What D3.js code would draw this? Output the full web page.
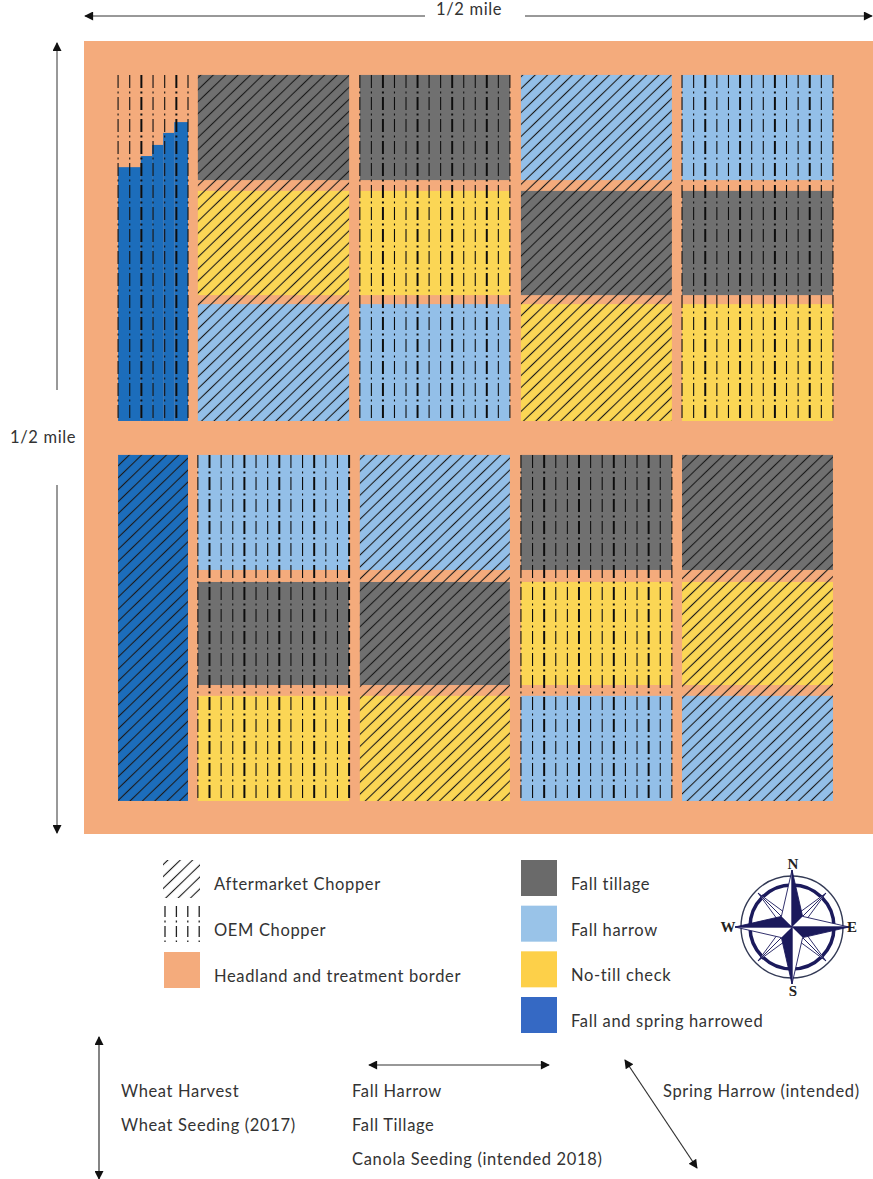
<!DOCTYPE html>
<html>
<head>
<meta charset="utf-8">
<title>Field plot map</title>
<script src="https://cdn.jsdelivr.net/npm/d3@7"></script>
<style>
    html, body { margin: 0; padding: 0; background: #fff; }
    svg { display: block; }
    text { font-family: Lato, "Open Sans", sans-serif; fill: #333; letter-spacing: 0.65px; }
</style>
</head>
<body>
<svg width="873" height="1179"></svg>
<script>
// field distances in feet, the whole field being 1/2 mile square
const fieldFeet = 2640;
const columnEdges = [[381, 887], [923, 1425], [1462, 1967], [2001, 2506]];
const stripEdge = [114, 348];
const blockEdges = { north: [113, 1265], south: [1378, 2530] };
const rowEdges = {
    north: [[113, 463], [499, 846], [876, 1265]],
    south: [[1378, 1761], [1801, 2144], [2180, 2530]]
};

// t = fall tillage, n = no-till check, h = fall harrow
const northRows = [["t", "n", "h"], ["t", "n", "h"], ["h", "t", "n"], ["h", "t", "n"]];
const southRows = [["h", "t", "n"], ["h", "t", "n"], ["t", "n", "h"], ["t", "n", "h"]];
const northChoppers = ["after", "oem", "after", "oem"];
const southChoppers = ["oem", "after", "oem", "after"];

// north strip, harrowed part starts further north going east
const stairEdges = [[114, 190], [190, 228], [228, 265], [265, 302], [302, 348]];
const stairTops = [420, 383, 346, 306, 270];

const fillColors = { t: "#707070", n: "#fbd655", h: "#93bfe8", s: "#1e6dbb", border: "#f4ab7c" };

const legendLeft = [
    { label: "Aftermarket Chopper", kind: "after" },
    { label: "OEM Chopper", kind: "oem" },
    { label: "Headland and treatment border", kind: "border" }
];
const legendRight = [
    { label: "Fall tillage", color: "#6b6b6b" },
    { label: "Fall harrow", color: "#99c3e8" },
    { label: "No-till check", color: "#fdd04a" },
    { label: "Fall and spring harrowed", color: "#3669c4" }
];
const operationColumns = [
    { x: 121, lines: ["Wheat Harvest", "Wheat Seeding (2017)"] },
    { x: 352, lines: ["Fall Harrow", "Fall Tillage", "Canola Seeding (intended 2018)"] },
    { x: 663, lines: ["Spring Harrow (intended)"] }
];
const compassPoints = ["N", "E", "S", "W"];

const svg = d3.select("svg");
const x = d3.scaleLinear().domain([0, fieldFeet]).range([84, 873]);
const y = d3.scaleLinear().domain([0, fieldFeet]).range([41, 834]);

const defs = svg.append("defs");
defs.append("marker")
    .attr("id", "arrow")
    .attr("viewBox", "0 -5 10 10")
    .attr("refX", 9)
    .attr("refY", 0)
    .attr("markerWidth", 10)
    .attr("markerHeight", 9)
    .attr("markerUnits", "userSpaceOnUse")
    .attr("orient", "auto-start-reverse")
    .append("path")
    .attr("d", "M0,-5L10,0L0,5Z")
    .attr("fill", "#111");
defs.append("filter").attr("id", "soft")
    .append("feGaussianBlur").attr("stdDeviation", 0.5);

const hatch = defs.append("pattern")
    .attr("id", "diag")
    .attr("patternUnits", "userSpaceOnUse")
    .attr("width", 8.6)
    .attr("height", 8.6)
    .attr("patternTransform", "rotate(-44)");
hatch.append("line")
    .attr("x1", -1).attr("x2", 10)
    .attr("y1", 4.3).attr("y2", 4.3)
    .attr("stroke", "#1a1a1a")
    .attr("stroke-width", 1.1);

const field = svg.append("g").attr("filter", "url(#soft)");
field.append("rect")
    .attr("x", x(0)).attr("y", y(0))
    .attr("width", x(fieldFeet) - x(0))
    .attr("height", y(fieldFeet) - y(0))
    .attr("fill", fillColors.border);

function plotRect(sel, x0, x1, y0, y1, fill) {
    return sel.append("rect")
        .attr("x", x(x0)).attr("y", y(y0))
        .attr("width", x(x1) - x(x0))
        .attr("height", y(y1) - y(y0))
        .attr("fill", fill);
}

// dash-dot lines of the OEM chopper, every third one is heavier
function oemLines(sel, x0, x1, y0, y1, gap, phase) {
    const n = Math.round((x1 - x0) / gap);
    sel.append("g").selectAll("line")
        .data(d3.range(n + 1))
        .enter().append("line")
        .attr("x1", d => x0 + (x1 - x0) * d / n)
        .attr("x2", d => x0 + (x1 - x0) * d / n)
        .attr("y1", y0).attr("y2", y1)
        .attr("stroke", "#111")
        .attr("stroke-width", d => (d + phase) % 3 === 0 ? 2 : 1.1)
        .attr("stroke-dasharray", "13 3.5 2 3.5");
}

function drawBlock(block, rows, choppers) {
    const [top, bottom] = blockEdges[block];
    columnEdges.forEach((edge, c) => {
        rows[c].forEach((code, r) => {
            const [r0, r1] = rowEdges[block][r];
            plotRect(field, edge[0], edge[1], r0, r1, fillColors[code]);
        });
        if (choppers[c] === "after") {
            plotRect(field, edge[0], edge[1], top, bottom, "url(#diag)");
        } else {
            oemLines(field, x(edge[0]), x(edge[1]), y(top), y(bottom), 11.5, c === 0 ? 2 : 1);
        }
    });
}

drawBlock("north", northRows, northChoppers);
drawBlock("south", southRows, southChoppers);

// west strip
stairEdges.forEach((edge, i) => {
    plotRect(field, edge[0], edge[1], stairTops[i], blockEdges.north[1], fillColors.s);
});
oemLines(field, x(stripEdge[0]), x(stripEdge[1]), y(blockEdges.north[0]), y(blockEdges.north[1]), 11.6, 1);
plotRect(field, stripEdge[0], stripEdge[1], blockEdges.south[0], blockEdges.south[1], fillColors.s);
plotRect(field, stripEdge[0], stripEdge[1], blockEdges.south[0], blockEdges.south[1], "url(#diag)");

// dimension arrows
const arrows = svg.append("g");
function arrow(x1, y1, x2, y2, w) {
    arrows.append("line")
        .attr("x1", x1).attr("y1", y1).attr("x2", x2).attr("y2", y2)
        .attr("stroke", "#333")
        .attr("stroke-width", w || 1)
        .attr("marker-end", "url(#arrow)");
}
arrow(425, 16, 85, 16);
arrow(525, 16, 872, 16);
arrow(57, 390, 57, 43);
arrow(57, 485, 57, 833);
arrow(99, 1108, 99, 1037, 1.2);
arrow(99, 1108, 99, 1179, 1.2);
arrow(459, 1065, 369, 1065, 1.2);
arrow(459, 1065, 549, 1065, 1.2);
arrow(661, 1114, 625, 1060, 1.2);
arrow(661, 1114, 697, 1168, 1.2);

svg.append("text").attr("x", 436).attr("y", 15).style("font-size", "16.5px").text("1/2 mile");
svg.append("text").attr("x", 10).attr("y", 443).style("font-size", "16.5px").text("1/2 mile");

// legend
const legendText = svg.append("g").style("font-size", "16.5px");
const legendMarks = svg.append("g").attr("filter", "url(#soft)");
const leftY = d3.scalePoint().domain(legendLeft.map(d => d.label)).range([878, 970]);
legendLeft.forEach(d => {
    const cy = leftY(d.label);
    if (d.kind === "after") {
        legendMarks.append("rect")
            .attr("x", 163).attr("y", 860).attr("width", 37).attr("height", 38)
            .attr("fill", "url(#diag)");
    } else if (d.kind === "oem") {
        legendMarks.append("g").selectAll("line")
            .data(d3.range(4))
            .enter().append("line")
            .attr("x1", i => 165 + i * 11.4).attr("x2", i => 165 + i * 11.4)
            .attr("y1", 906).attr("y2", 942)
            .attr("stroke", "#222").attr("stroke-width", 1.3)
            .attr("stroke-dasharray", "11 3.5 2 3.5");
    } else {
        legendMarks.append("rect")
            .attr("x", 164).attr("y", 952).attr("width", 36).attr("height", 36)
            .attr("fill", fillColors.border);
    }
    legendText.append("text").attr("x", 214).attr("y", cy + 12).text(d.label);
});

const rightY = d3.scalePoint().domain(legendRight.map(d => d.label)).range([878, 1015]);
legendRight.forEach(d => {
    const cy = rightY(d.label);
    legendMarks.append("rect")
        .attr("x", 521).attr("y", cy - 18).attr("width", 36).attr("height", 36)
        .attr("fill", d.color);
    legendText.append("text").attr("x", 571).attr("y", cy + 12).text(d.label);
});

// operation directions
const opsText = svg.append("g").style("font-size", "16.5px");
const opsY = d3.scalePoint().domain([0, 1, 2]).range([1097, 1165]);
operationColumns.forEach(col => {
    opsText.selectAll(null)
        .data(col.lines)
        .enter().append("text")
        .attr("x", col.x)
        .attr("y", (d, i) => opsY(i))
        .text(d => d);
});

// compass rose
const rose = svg.append("g").attr("transform", "translate(792,927)");
const navy = "#1b1a5c";
[[51, 1.4], [42, 3.5]].forEach(ring => {
    rose.append("circle").attr("r", ring[0])
        .attr("fill", "none")
        .attr("stroke", ring[1] > 2 ? navy : "#333a55")
        .attr("stroke-width", ring[1]);
});
const rad = d => d * Math.PI / 180;
const polar = (r, deg) => [r * Math.sin(rad(deg)), -r * Math.cos(rad(deg))];
function starPoint(deg, len, waist, shade) {
    const tip = polar(len, deg);
    const left = polar(waist, deg - 45);
    const right = polar(waist, deg + 45);
    rose.append("path").attr("d", d3.line()([[0, 0], tip, left]))
        .attr("fill", "#fff").attr("stroke", navy).attr("stroke-width", 0.9);
    rose.append("path").attr("d", d3.line()([[0, 0], tip, right]))
        .attr("fill", shade).attr("stroke", navy).attr("stroke-width", 0.9);
}
d3.range(45, 360, 90).forEach(d => starPoint(d, 48, 9, "#fff"));
d3.range(0, 360, 90).forEach(d => starPoint(d, 57, 15, navy));
compassPoints.forEach((p, i) => {
    const [cx, cy] = polar(61, i * 90);
    rose.append("text")
        .attr("x", cx + (p === "E" ? -1 : p === "W" ? -3 : 1))
        .attr("y", cy + (p === "S" ? 8 : 5) - (p === "N" ? 2 : 0))
        .attr("text-anchor", "middle")
        .style("font-family", "'Liberation Serif', serif")
        .style("font-weight", "bold")
        .style("font-size", "15px")
        .style("letter-spacing", "0")
        .style("fill", "#222")
        .text(p);
});
</script>
</body>
</html>
